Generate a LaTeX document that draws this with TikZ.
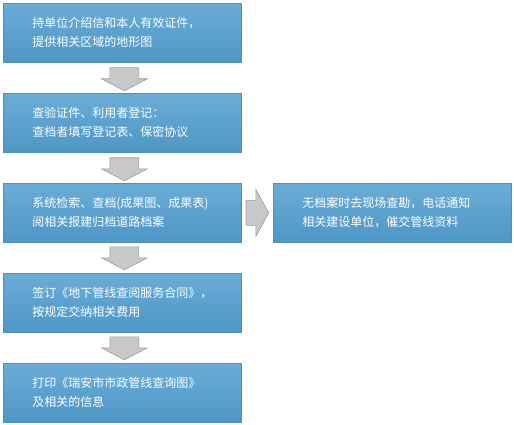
\documentclass[tikz,border=0pt]{standalone}
\usepackage{fontspec}
\newfontfamily\cjk{Noto Sans CJK SC}
\usetikzlibrary{calc}
\definecolor{boxtop}{HTML}{6AACD6}
\definecolor{boxbot}{HTML}{4E97C6}
\definecolor{boxline}{HTML}{4F8FBE}
\definecolor{arrfill}{HTML}{C8C8C8}
\definecolor{arrline}{HTML}{9A9A9A}
\tikzset{
  stepbox/.style={rectangle, draw=boxline, line width=0.8pt, top color=boxtop, bottom color=boxbot,
    minimum width=238pt, minimum height=59pt, text width=180pt, inner xsep=29pt, inner ysep=0pt,
    align=left, text=white, font=\cjk\fontsize{12}{19}\selectfont, anchor=north west},
  arrstyle/.style={draw=arrline, fill=arrfill, line width=0.6pt, line join=miter},
  pics/downarr/.style={code={\draw[arrstyle] (-14.5,0) -- (14.5,0) -- (14.5,11) -- (23,11) -- (0,23) -- (-23,11) -- (-14.5,11) -- cycle;}},
  pics/rightarr/.style={code={\draw[arrstyle] (0,-12.5) -- (10,-12.5) -- (10,-23.5) -- (23,0) -- (10,23.5) -- (10,12.5) -- (0,12.5) -- cycle;}}
}
\begin{document}
\begin{tikzpicture}[x=1pt,y=-1pt]
\useasboundingbox (0,0) rectangle (514,425);
\node[stepbox] (b1) at (3,3) {持单位介绍信和本人有效证件，\\提供相关区域的地形图};
\node[stepbox] (b2) at (3,93) {查验证件、利用者登记：\\查档者填写登记表、保密协议};
\node[stepbox] (b3) at (3,183) {系统检索、查档(成果图、成果表)\\阅相关报建归档道路档案};
\node[stepbox] (b4) at (3,273) {签订《地下管线查阅服务合同》，\\按规定交纳相关费用};
\node[stepbox] (b5) at (3,363) {打印《瑞安市市政管线查询图》\\及相关的信息};
\node[stepbox] (r3) at (273,183) {无档案时去现场查勘，电话通知\\相关建设单位，催交管线资料};
\pic at ($(b1.south)+(2,5)$) {downarr};
\pic at ($(b2.south)+(2,5)$) {downarr};
\pic at ($(b3.south)+(2,4)$) {downarr};
\pic at ($(b4.south)+(2,4)$) {downarr};
\pic at ($(b3.east)+(4,0)$) {rightarr};
\end{tikzpicture}
\end{document}
